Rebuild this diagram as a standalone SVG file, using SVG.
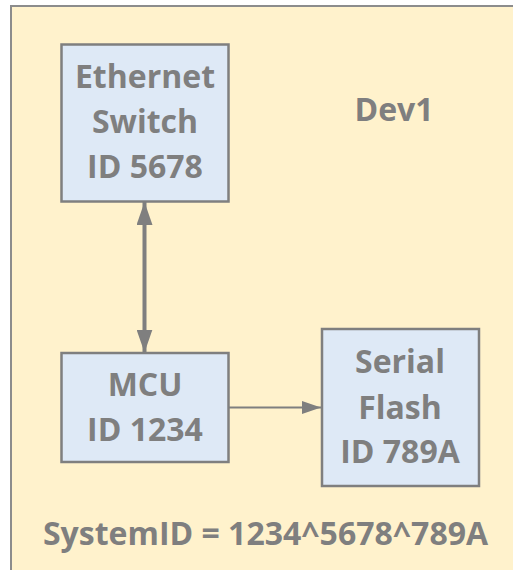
<svg xmlns="http://www.w3.org/2000/svg" width="513" height="570" viewBox="0 0 513 570">
<defs>
<style>
.box{fill:#dee9f6;stroke:#7f7f7f;stroke-width:2.5}
.t{font-family:"Open Sans","Liberation Sans",sans-serif;font-weight:700;font-size:32px;fill:#7f7f7f;text-anchor:middle}
.c{stroke:#7f7f7f;fill:none}
</style>
<marker id="big" viewBox="0 0 23 16" refX="23" refY="8" markerWidth="23" markerHeight="16" markerUnits="userSpaceOnUse" orient="auto-start-reverse">
<path d="M0,0 L23,8 L0,16 z" fill="#7f7f7f"/>
</marker>
<marker id="med" viewBox="0 0 19 13" refX="19" refY="6.5" markerWidth="19" markerHeight="13" markerUnits="userSpaceOnUse" orient="auto">
<path d="M0,0 L19,6.5 L0,13 z" fill="#7f7f7f"/>
</marker>
</defs>
<rect x="11" y="6" width="520" height="580" fill="#fff2cc" stroke="#8c8c8c" stroke-width="2"/>
<g id="connectors">
<line class="c" x1="144.5" y1="202" x2="144.5" y2="352.5" stroke-width="4" marker-start="url(#big)" marker-end="url(#big)"/>
<line class="c" x1="229" y1="407.5" x2="321" y2="407.5" stroke-width="2" marker-end="url(#med)"/>
</g>
<g id="ethernet">
<rect class="box" x="61.5" y="44.5" width="167" height="157"/>
<text class="t" x="145" y="88">Ethernet</text>
<text class="t" x="145" y="133">Switch</text>
<text class="t" x="145" y="178">ID 5678</text>
</g>
<g id="mcu">
<rect class="box" x="61.5" y="353" width="167" height="109"/>
<text class="t" x="145" y="396">MCU</text>
<text class="t" x="145" y="441">ID 1234</text>
</g>
<g id="flash">
<rect class="box" x="322" y="329" width="157" height="157"/>
<text class="t" x="400" y="373">Serial</text>
<text class="t" x="400" y="419">Flash</text>
<text class="t" x="400" y="463">ID 789A</text>
</g>
<g id="dev1">
<text class="t" x="394" y="121" font-size="34">Dev1</text>
</g>
<g id="systemid">
<text class="t" x="265.5" y="545">SystemID = 1234^5678^789A</text>
</g>
</svg>
